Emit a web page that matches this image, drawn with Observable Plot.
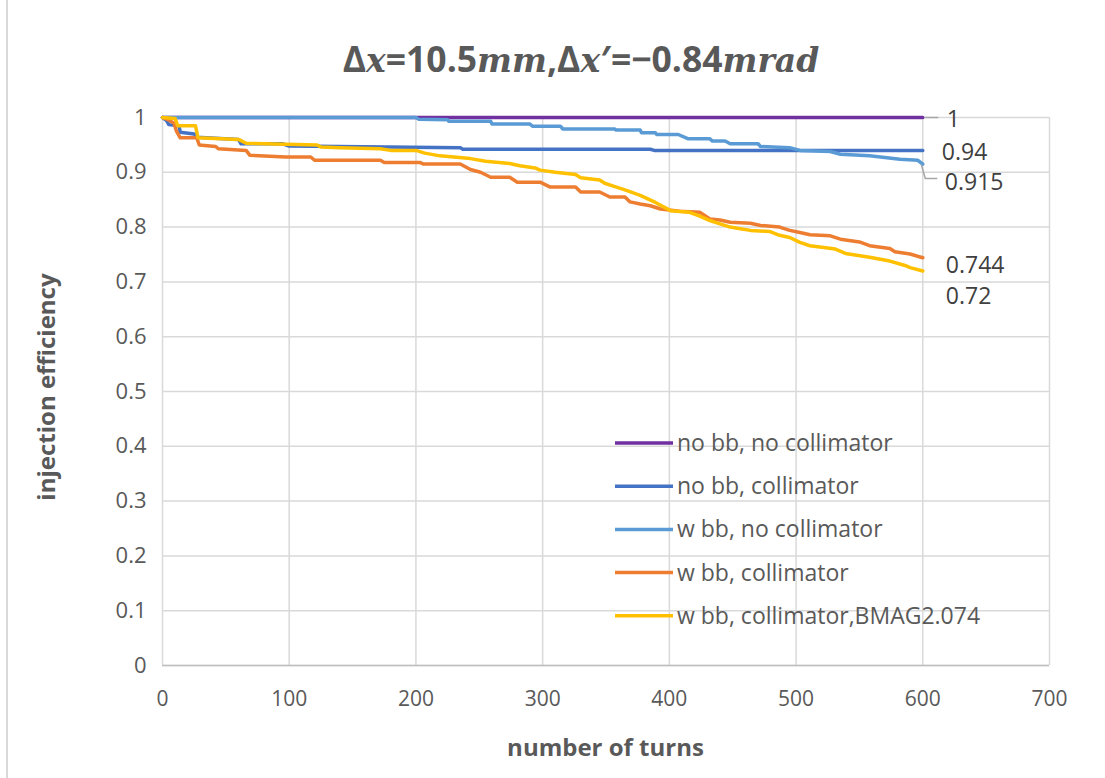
<!DOCTYPE html>
<html>
<head>
<meta charset="utf-8">
<script src="https://cdn.jsdelivr.net/npm/d3@7"></script>
<script src="https://cdn.jsdelivr.net/npm/@observablehq/plot@0.6"></script>
<style>
  body { margin: 0; background: #fff; }
  #wrap { position: relative; width: 1105px; height: 778px; overflow: hidden; font-family: "Open Sans", sans-serif; }
  #edge { position: absolute; left: 6px; top: 0; width: 2px; height: 778px; background: #d9d9d9; }
  #title { position: absolute; top: 35px; left: 0; width: 1162px; text-align: center; white-space: nowrap; font-size: 35.5px; line-height: 46px; font-weight: bold; color: #595959; }
  #title i { font-family: "DejaVu Serif", serif; font-weight: bold; font-size: 33px; }
  svg { position: absolute; left: 0; top: 0; }
</style>
</head>
<body>
<div id="wrap">
  <div id="edge"></div>
  <div id="title">Δ<i>x</i>=10.5<i>mm</i>,Δ<i>x</i>′=−0.84<i>mrad</i></div>
</div>
<script>
// Series names and colours (legend order = drawing order)
const seriesNames = [
  "no bb, no collimator",
  "no bb, collimator",
  "w bb, no collimator",
  "w bb, collimator",
  "w bb, collimator,BMAG2.074"
];
const seriesColors = ["#7030A0", "#4472C4", "#5B9BD5", "#ED7D31", "#FFC000"];

// Axis ticks
const xTicks = [0, 100, 200, 300, 400, 500, 600, 700];
const yTicks = [0, 0.1, 0.2, 0.3, 0.4, 0.5, 0.6, 0.7, 0.8, 0.9, 1];

// no bb, no collimator
const turnsNoBbNoColl = [0, 600];
const effNoBbNoColl = [1, 1];

// no bb, collimator
const turnsNoBbColl = [0, 3, 5, 13, 14, 25, 27, 60, 62, 95, 100, 235, 237, 385, 388, 600];
const effNoBbColl = [1, 0.995, 0.987, 0.985, 0.973, 0.97, 0.964, 0.96, 0.952, 0.952, 0.948, 0.945, 0.942, 0.942, 0.94, 0.94];

// w bb, no collimator
const turnsBbNoColl = [0, 200, 202, 225, 226, 259, 260, 290, 292, 314, 316, 357, 358, 377, 378, 389, 390, 407, 415, 432, 434, 444, 448, 470, 472, 495, 503, 527, 535, 558, 570, 582, 596, 600];
const effBbNoColl = [1, 1, 0.997, 0.996, 0.993, 0.993, 0.988, 0.988, 0.984, 0.984, 0.979, 0.979, 0.977, 0.977, 0.972, 0.972, 0.969, 0.969, 0.961, 0.961, 0.957, 0.957, 0.952, 0.952, 0.947, 0.945, 0.94, 0.938, 0.933, 0.93, 0.927, 0.924, 0.922, 0.915];

// w bb, collimator
const turnsBbColl = [0, 5, 9, 11, 14, 27, 29, 42, 44, 66, 69, 97, 117, 120, 172, 175, 203, 206, 235, 243, 251, 259, 274, 280, 298, 306, 326, 330, 345, 353, 365, 369, 377, 385, 393, 408, 424, 432, 440, 448, 464, 472, 487, 495, 503, 511, 527, 535, 550, 558, 574, 578, 590, 600];
const effBbColl = [1, 0.995, 0.99, 0.975, 0.963, 0.963, 0.95, 0.947, 0.943, 0.94, 0.931, 0.928, 0.928, 0.922, 0.922, 0.918, 0.918, 0.915, 0.915, 0.905, 0.9, 0.891, 0.891, 0.882, 0.882, 0.873, 0.873, 0.864, 0.864, 0.855, 0.855, 0.846, 0.842, 0.839, 0.833, 0.829, 0.827, 0.815, 0.813, 0.809, 0.807, 0.803, 0.8, 0.794, 0.79, 0.786, 0.784, 0.778, 0.773, 0.766, 0.761, 0.755, 0.751, 0.744];

// w bb, collimator, BMAG 2.074
const turnsBmag = [0, 10, 12, 26, 28, 60, 66, 122, 125, 140, 172, 180, 200, 207, 219, 243, 255, 274, 282, 294, 298, 310, 326, 330, 345, 349, 357, 365, 377, 389, 401, 416, 424, 432, 440, 448, 456, 464, 479, 487, 495, 503, 511, 531, 539, 558, 574, 586, 590, 600];
const effBmag = [1, 0.998, 0.985, 0.985, 0.963, 0.96, 0.953, 0.95, 0.946, 0.945, 0.943, 0.94, 0.94, 0.935, 0.93, 0.925, 0.92, 0.916, 0.912, 0.908, 0.904, 0.9, 0.896, 0.89, 0.886, 0.88, 0.874, 0.868, 0.858, 0.845, 0.83, 0.827, 0.82, 0.812, 0.806, 0.8, 0.797, 0.794, 0.792, 0.785, 0.781, 0.772, 0.766, 0.76, 0.752, 0.745, 0.738, 0.73, 0.726, 0.72];

const seriesTurns = [turnsNoBbNoColl, turnsNoBbColl, turnsBbNoColl, turnsBbColl, turnsBmag];
const seriesEff = [effNoBbNoColl, effNoBbColl, effBbNoColl, effBbColl, effBmag];

// End-label placement (pixel offsets from the last point of each series)
const labelDx = [24, 19, 22, 23, 23];
const labelDy = [2, 2, 19, 8, 26];

// Long-format table for Plot
const rows = seriesNames.flatMap((name, i) =>
  seriesTurns[i].map((t, j) => ({series: name, turns: t, eff: seriesEff[i][j]}))
);
const lastPoints = seriesNames.map((name, i) => ({
  series: name,
  turns: seriesTurns[i][seriesTurns[i].length - 1],
  eff: seriesEff[i][seriesEff[i].length - 1],
  dx: labelDx[i],
  dy: labelDy[i]
}));

const gridColor = "#d9d9d9";
const textColor = "#595959";

// Axis titles, centred on the plot frame
function axisTitles(index, scales, values, dims) {
  const {width, height, marginLeft, marginRight, marginTop, marginBottom} = dims;
  const cx = (marginLeft + width - marginRight) / 2;
  const cy = (marginTop + height - marginBottom) / 2;
  const g = d3.create("svg:g")
    .attr("fill", textColor).attr("font-size", 24).attr("font-weight", "bold").attr("text-anchor", "middle");
  g.append("text").attr("transform", `translate(${cx},${height - 30})`).attr("dy", "0.35em").text("number of turns");
  g.append("text").attr("transform", `translate(47,${cy - 4}) rotate(-90)`).attr("dy", "0.35em").text("injection efficiency");
  return g.node();
}

// Leader lines for the "1" and "0.915" labels, drawn from the end points
function leaders(index, scales) {
  const g = d3.create("svg:g").attr("fill", "none").attr("stroke", "#a6a6a6").attr("stroke-width", 1.5);
  const p0 = lastPoints[0], p2 = lastPoints[2];
  const x0 = scales.x(p0.turns), y0 = scales.y(p0.eff);
  g.append("path").attr("d", `M${x0 + 3},${y0 + 0.5}H${x0 + 16}`);
  const x2 = scales.x(p2.turns), y2 = scales.y(p2.eff);
  g.append("path").attr("d", `M${x2 - 1},${y2 + 1}L${x2 + 3},${y2 + 15}H${x2 + 15}`);
  return g.node();
}

// Legend inside the plot area
function legend() {
  const left = 615, top = 443, step = 43.2;
  const g = d3.create("svg:g").attr("text-anchor", "start");
  seriesNames.forEach((name, i) => {
    const y = top + i * step;
    g.append("line").attr("x1", left).attr("x2", left + 58).attr("y1", y).attr("y2", y)
      .attr("stroke", seriesColors[i]).attr("stroke-width", 3.5);
    g.append("text").attr("x", left + 62).attr("y", y).attr("dy", "0.35em")
      .attr("fill", textColor).attr("font-size", 23).text(name);
  });
  return g.node();
}

const chart = Plot.plot({
  width: 1105,
  height: 778,
  marginLeft: 162,
  marginRight: 56,
  marginTop: 117,
  marginBottom: 113,
  style: {fontFamily: "'Open Sans', sans-serif", color: textColor, background: "transparent", overflow: "visible"},
  x: {domain: [0, 700], label: null},
  y: {domain: [0, 1], label: null},
  color: {domain: seriesNames, range: seriesColors},
  marks: [
    Plot.gridX(xTicks, {stroke: gridColor, strokeOpacity: 1, strokeWidth: 1.5}),
    Plot.gridY(yTicks, {stroke: gridColor, strokeOpacity: 1, strokeWidth: 1.5}),
    Plot.axisX(xTicks, {tickSize: 0, tickPadding: 26, fontSize: 21, tickFormat: d => String(d), label: null}),
    Plot.axisY(yTicks, {tickSize: 0, tickPadding: 16, fontSize: 22, tickFormat: d => String(d), label: null}),
    Plot.ruleY([0], {stroke: "#bfbfbf", strokeWidth: 1.5}),
    axisTitles,
    Plot.line(rows, {x: "turns", y: "eff", z: "series", stroke: "series", strokeWidth: 3.5}),
    leaders,
    Plot.text(lastPoints, {x: "turns", y: "eff", text: d => String(d.eff), textAnchor: "start", fontSize: 23, fill: "#404040",
      render: (index, scales, values, dims, ctx, next) => {
        const node = next(index, scales, values, dims, ctx);
        d3.select(node).selectAll("text").each(function(_, k) {
          const i = index[k];
          const d = lastPoints[i];
          d3.select(this).attr("transform", `translate(${values.x[i] + d.dx},${values.y[i] + d.dy})`);
        });
        return node;
      }}),
    legend
  ]
});
document.getElementById("wrap").appendChild(chart);
</script>
</body>
</html>
